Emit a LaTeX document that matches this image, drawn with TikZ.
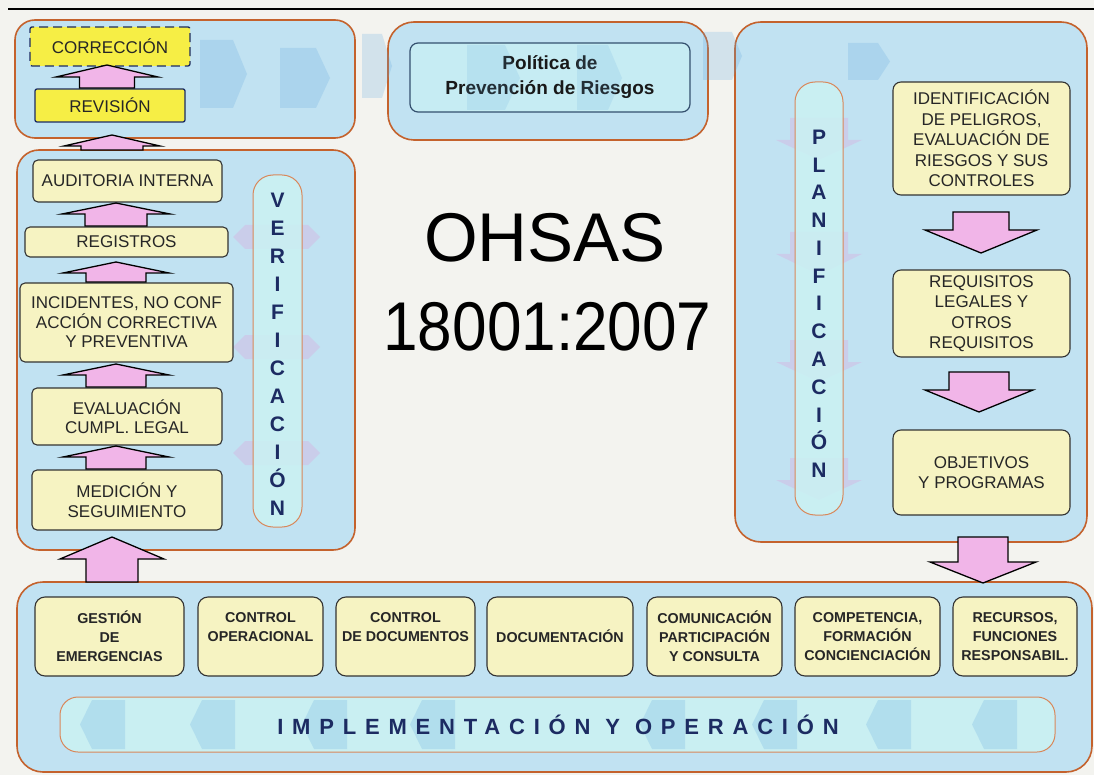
\documentclass[tikz,border=0pt]{standalone}
\usepackage{graphicx}
\usepackage{fontspec}
\setmainfont{Liberation Sans}
\newfontfamily\spacedfont{Liberation Sans}[LetterSpace=40]
\usetikzlibrary{calc}
\definecolor{bgc}{HTML}{F3F3EF}
\definecolor{panelblue}{HTML}{C1E2F2}
\definecolor{panelline}{HTML}{C4622D}
\definecolor{pillcyan}{HTML}{CBF1F3}
\definecolor{pillline}{HTML}{D9875A}
\definecolor{boxyellow}{HTML}{F6F3C2}
\definecolor{brightyellow}{HTML}{F6EE45}
\definecolor{navy}{HTML}{1C2B62}
\definecolor{arrowpink}{HTML}{F1B5E8}
\definecolor{fadeblue}{HTML}{5FA6DD}
\definecolor{fadepink}{HTML}{E39AD8}
\definecolor{polbox}{HTML}{C6ECF3}
\definecolor{polline}{HTML}{34506E}
% block arrow: cx, tip y, head-base y, end y, head half width, shaft half width
\newcommand\blk[6]{\draw[blkarrow] ({#1-#6},#4) -- ({#1-#6},#3) -- ({#1-#5},#3) -- (#1,#2) -- ({#1+#5},#3) -- ({#1+#6},#3) -- ({#1+#6},#4) -- cycle;}
% faint right arrow: x0, x1, y0, y1, depth
\newcommand\farrowR[5]{\fill[fblue] (#1,#3) -- ({#2-#5},#3) -- (#2,{(#3+#4)/2}) -- ({#2-#5},#4) -- (#1,#4) -- cycle;}
% faint left arrow: x0, x1, y0, y1, depth
\newcommand\farrowL[5]{\fill[fblue] (#1,{(#3+#4)/2}) -- ({#1+#5},#3) -- (#2,#3) -- (#2,#4) -- ({#1+#5},#4) -- cycle;}
% faint pink horizontal double arrow: x0, x1, ymid
\newcommand\fpinkH[3]{\fill[fpink] (#1,#3) -- ({#1+12},{#3-12}) -- ({#2-12},{#3-12}) -- (#2,#3) -- ({#2-12},{#3+12}) -- ({#1+12},{#3+12}) -- cycle;}
% faint pink down arrow: y0, y1
\newcommand\fpinkD[2]{\fill[fpink] (790,#1) -- (848,#1) -- (848,{#1+22}) -- (862,{#1+22}) -- (819,#2) -- (776,{#1+22}) -- (790,{#1+22}) -- cycle;}
\begin{document}
\begin{tikzpicture}[x=1pt,y=-1pt,
  panel/.style={draw=panelline, line width=1.6pt, fill=panelblue, rounded corners=22pt, inner sep=0pt},
  pill/.style={draw=pillline, line width=1pt, fill=pillcyan, fill opacity=0.88, rounded corners=20pt, inner sep=0pt},
  ybox/.style={draw=black!80, line width=1.1pt, fill=boxyellow, rounded corners=5pt, align=center, inner sep=0pt, text=black!85, font=\fontsize{17}{19.5}\selectfont},
  rbox/.style={ybox, rounded corners=8pt, font=\fontsize{17}{20.5}\selectfont},
  hbox/.style={fill=brightyellow, draw=navy, line width=1.3pt, rounded corners=2pt, align=center, inner sep=0pt, text=black!85, font=\fontsize{17}{19.5}\selectfont},
  bbox/.style={ybox, rounded corners=10pt, font=\bfseries\fontsize{14.3}{19}\selectfont},
  letter/.style={font=\bfseries\fontsize{21}{21}\selectfont, text=navy, inner sep=0pt, anchor=base},
  blkarrow/.style={draw=black, line width=1.3pt, fill=arrowpink, line join=miter},
  fblue/.style={fill=fadeblue, opacity=0.22},
  fpink/.style={fill=fadepink, opacity=0.28}]
\useasboundingbox (0,0) rectangle (1094,775);
\fill[bgc] (0,0) rectangle (1094,775);
\coordinate (tl) at (8,9);
\coordinate (tr) at (1094,9);
\draw[line width=1.5pt] (tl) -- (tr);

% panels
\node[panel, rounded corners=20pt, minimum width=340pt, minimum height=118pt] (pTL) at (185,79) {};
\node[panel, rounded corners=26pt, minimum width=320pt, minimum height=118pt] (pPol) at (548,81) {};
\node[panel, rounded corners=26pt, minimum width=352pt, minimum height=520pt] (pPlan) at (911,282) {};
\node[panel, minimum width=338pt, minimum height=400pt] (pVer) at (186,350) {};
\node[panel, rounded corners=26pt, minimum width=1075pt, minimum height=190pt] (pImp) at (554.5,677) {};

% faint decorative arrows, top band
\farrowR{200}{247}{40}{108}{14}
\farrowR{280}{330}{48}{108}{14}
\farrowR{362}{392}{34}{98}{10}
\farrowR{703}{742}{32}{80}{10}
\farrowR{848}{890}{43}{80}{12}
% faint pink around pills
\fpinkH{233}{320}{237}
\fpinkH{233}{320}{347}
\fpinkH{233}{320}{453}
\fpinkD{118}{160}
\fpinkD{232}{275}
\fpinkD{340}{382}
\fpinkD{458}{500}

% pills
\node[pill, minimum width=49pt, minimum height=352pt] (verpill) at (277.5,351) {};
\node[pill, minimum width=48pt, minimum height=433pt] (planpill) at (819,298.5) {};
\node[pill, rounded corners=18pt, minimum width=995pt, minimum height=55pt] (imppill) at (557.5,724.5) {};
\foreach \x in {80,190,302,410,640,752,866,972} {\farrowL{\x}{\x+45}{700}{749}{12}}

% letters
\foreach \l [count=\i from 0] in {V,E,R,I,F,I,C,A,C,I,Ó,N}
  \node[letter] (ver\i) at (277.5,{207.5+28*\i}) {\l};
\foreach \l [count=\i from 0] in {P,L,A,N,I,F,I,C,A,C,I,Ó,N}
  \node[letter] (plan\i) at (819,{144.5+27.75*\i}) {\l};
\node[font=\spacedfont\bfseries\fontsize{22}{22}\selectfont, text=navy, inner sep=0pt] (impt) at (558,724.5) {IMPLEMENTACIÓN Y OPERACIÓN};

% politica
\node[draw=polline, line width=1.2pt, fill=polbox, rounded corners=8pt, minimum width=280pt, minimum height=69pt, align=center, inner sep=0pt, text=black!90, font=\bfseries\fontsize{19}{25}\selectfont] (pol) at (550,77.5) {Política de\\Prevención de Riesgos};
\begin{scope}[opacity=0.15]
\fill[fadeblue] (467,45) -- (505,45) -- (520,78) -- (505,110) -- (467,110) -- cycle;
\fill[fadeblue] (577,45) -- (608,45) -- (622,78) -- (608,110) -- (577,110) -- cycle;
\end{scope}

% top-left boxes
\node[hbox, dash pattern=on 9pt off 5pt, minimum width=160pt, minimum height=39pt] (corr) at (110,46.5) {CORRECCIÓN};
\node[hbox, minimum width=150pt, minimum height=33pt] (rev) at (110,105.5) {REVISIÓN};

% left boxes
\node[ybox, minimum width=189pt, minimum height=42pt] (aud) at (127.5,181) {AUDITORIA INTERNA};
\node[ybox, minimum width=203pt, minimum height=30pt] (reg) at (126.5,242) {REGISTROS};
\node[ybox, minimum width=213pt, minimum height=79pt] (inc) at (126.5,322.5) {INCIDENTES, NO CONF\\ACCIÓN CORRECTIVA\\Y PREVENTIVA};
\node[ybox, minimum width=190pt, minimum height=57pt] (eva) at (127,416.5) {EVALUACIÓN\\CUMPL. LEGAL};
\node[ybox, minimum width=190pt, minimum height=60pt] (med) at (127,500) {MEDICIÓN Y\\SEGUIMIENTO};

% right boxes
\node[rbox, minimum width=177pt, minimum height=113pt] (iden) at (981.5,138.5) {IDENTIFICACIÓN\\DE PELIGROS,\\EVALUACIÓN DE\\RIESGOS Y SUS\\CONTROLES};
\node[rbox, minimum width=177pt, minimum height=87pt] (req) at (981.5,313.5) {REQUISITOS\\LEGALES Y\\OTROS\\REQUISITOS};
\node[rbox, minimum width=177pt, minimum height=85pt] (obj) at (981.5,472.5) {OBJETIVOS\\Y PROGRAMAS};

% bottom boxes
\node[bbox, minimum width=149pt, minimum height=79pt] (ges) at (109.5,636.5) {GESTIÓN\\DE\\EMERGENCIAS};
\node[bbox, minimum width=125pt, minimum height=79pt] (cop) at (260.5,636.5) {CONTROL\\OPERACIONAL\\\mbox{}};
\node[bbox, minimum width=139pt, minimum height=79pt] (cdd) at (405.5,636.5) {CONTROL\\DE DOCUMENTOS\\\mbox{}};
\node[bbox, minimum width=146pt, minimum height=79pt] (doc) at (560,636.5) {DOCUMENTACIÓN};
\node[bbox, minimum width=135pt, minimum height=79pt] (com) at (714.5,636.5) {COMUNICACIÓN\\PARTICIPACIÓN\\Y CONSULTA};
\node[bbox, minimum width=145pt, minimum height=79pt] (cmp) at (867.5,636.5) {COMPETENCIA,\\FORMACIÓN\\CONCIENCIACIÓN};
\node[bbox, minimum width=124pt, minimum height=79pt] (rec) at (1015,636.5) {RECURSOS,\\FUNCIONES\\RESPONSABIL.};

% block arrows
\blk{107}{65}{77}{88}{51}{27.5}
\blk{112}{135}{146}{150}{48}{31}
\blk{116}{203}{214}{226}{54}{31}
\blk{116}{262}{273}{282}{53}{30}
\blk{116}{364}{375}{387}{53}{30}
\blk{116}{446}{457}{469}{53}{30}
\blk{112}{537}{559}{582}{52}{26}
\blk{981}{253}{230}{212}{56}{28}
\blk{979}{412}{390}{372}{54}{30}
\blk{983}{583}{562}{537}{53}{25}

% title
\node[anchor=base, inner sep=0pt, font=\fontsize{69}{69}\selectfont] (ohsas) at (545,262) {OHSAS};
\node[anchor=base, inner sep=0pt, font=\fontsize{69}{69}\selectfont] (num) at (547.5,350) {\scalebox{0.9}[1]{18001:2007}};
\end{tikzpicture}
\end{document}
